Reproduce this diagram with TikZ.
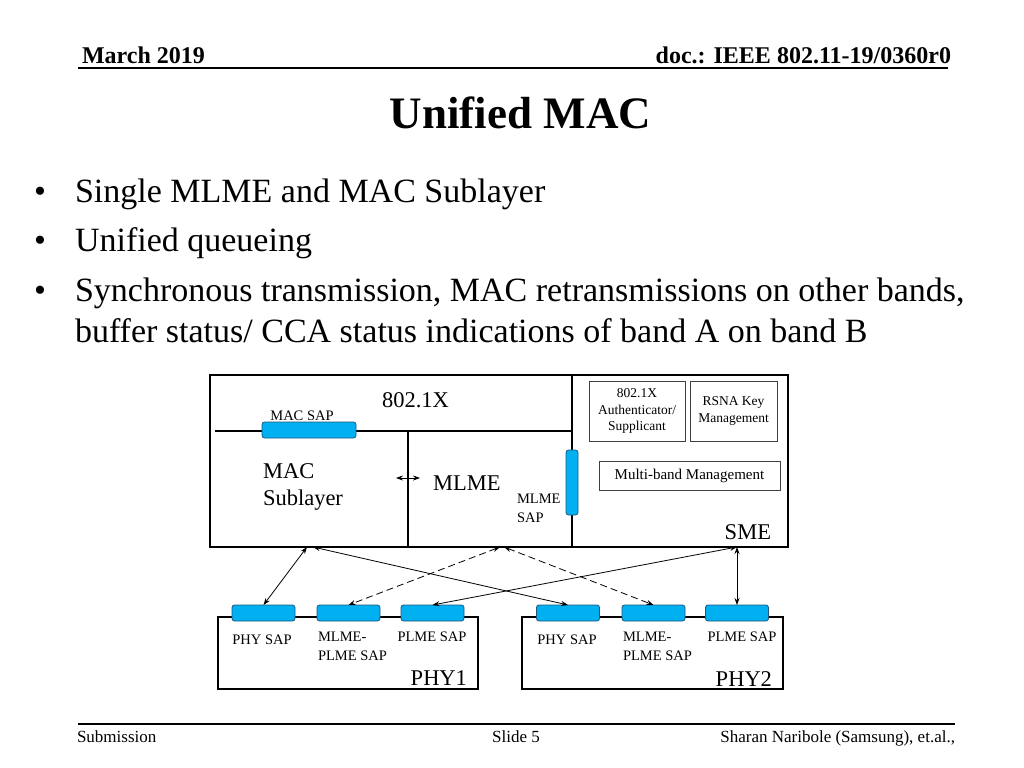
\documentclass[tikz,border=0pt]{standalone}
\usepackage{fontspec}
\setmainfont{Liberation Serif}
\usetikzlibrary{arrows.meta,positioning}
\definecolor{sapfill}{RGB}{0,176,240}
\definecolor{sapline}{RGB}{35,85,125}

\begin{document}
\begin{tikzpicture}[x=1bp, y=-1bp,
  every node/.style={inner sep=0pt, outer sep=0pt},
  sap/.style={rectangle, rounded corners=2.5bp, draw=sapline, line width=0.8bp, fill=sapfill},
  physap/.style={sap, minimum width=63bp, minimum height=16bp},
  smebox/.style={draw=black!75, line width=1bp, align=center, font=\fontsize{13.5bp}{16.5bp}\selectfont},
  big/.style={font=\fontsize{22.5bp}{27bp}\selectfont},
  small/.style={font=\fontsize{14.5bp}{18.5bp}\selectfont},
  bullet/.style={font=\fontsize{34bp}{41bp}\selectfont, anchor=base west, align=left},
  link/.style={{Stealth[length=7bp,width=5bp]}-{Stealth[length=7bp,width=5bp]}, line width=0.8bp},
  dashlink/.style={link, dash pattern=on 7bp off 4bp},
]
\useasboundingbox (0,0) rectangle (1024,768);

% header and footer
\node[anchor=base west, font=\bfseries\fontsize{24bp}{28bp}\selectfont] (date) at (82,64) {March 2019};
\node[anchor=base east, font=\bfseries\fontsize{24bp}{28bp}\selectfont] (doc) at (951,64) {doc.: IEEE 802.11-19/0360r0};
\draw[line width=1.8bp] (78,68) -- (948,68);
\draw[line width=1.5bp] (78,724) -- (955,724);
\node[anchor=base west, font=\fontsize{17bp}{20bp}\selectfont] (sub) at (77,742) {Submission};
\node[anchor=base, font=\fontsize{17bp}{20bp}\selectfont] (slide) at (516,742) {Slide 5};
\node[anchor=base east, font=\fontsize{17bp}{20bp}\selectfont] (auth) at (955,742) {Sharan Naribole (Samsung), et.al.,};

% title and bullets
\node[anchor=base, font=\bfseries\fontsize{45bp}{50bp}\selectfont] (title) at (520.5,128) {Unified MAC};
\foreach \y in {202,251,301}
  \node[bullet] at (34,\y) {\textbullet};
\node[bullet] (b1) at (75,202) {Single MLME and MAC Sublayer};
\node[bullet] (b2) at (75,251) {Unified queueing};
\node[bullet] (b3) at (75,342) {Synchronous transmission, MAC retransmissions on other bands,\\buffer status/ CCA status indications of band A on band B};

% upper block
\draw[line width=1.3bp] (210,375) rectangle (788,547);
\draw[line width=1.1bp] (215,431) -- (572,431);
\draw[line width=1.1bp] (408,431) -- (408,547);
\draw[line width=1.1bp] (572,375) -- (572,547);
\node[sap, minimum width=94bp, minimum height=16bp] (macsap) at (309,430) {};
\node[sap, minimum width=12bp, minimum height=65bp] (mlmesap) at (572,482.5) {};
\node[big, anchor=base] (dot1x) at (415.5,407) {802.1X};
\node[small, anchor=base] (macsapl) at (302,420) {MAC SAP};
\node[big, anchor=base west, align=left] (macl) at (263,505) {MAC\\Sublayer};
\node[big, anchor=base west] (mlmel) at (433,490) {MLME};
\node[small, anchor=base west, align=left] (mlmesapl) at (517,522) {MLME\\SAP};
\coordinate (ml) at (396,478);
\coordinate (mr) at (420,478);
\draw[link] (ml) -- (mr);
\node[smebox, minimum width=96bp, minimum height=60bp] (authbox) at (637,411) {802.1X\\Authenticator/\\Supplicant};
\node[smebox, minimum width=87bp, minimum height=60bp] (rsna) at (733.5,411) {RSNA Key\\Management};
\node[smebox, minimum width=181bp, minimum height=29bp, font=\fontsize{15bp}{18bp}\selectfont] (mbm) at (689.5,475.5) {Multi-band Management};
\node[big, anchor=base east] (sme) at (771,539) {SME};

% PHY blocks
\draw[line width=1.3bp] (218,617) rectangle (478,689);
\draw[line width=1.3bp] (522,617) rectangle (783,689);
\node[physap] (phy1) at (263.5,613) {};
\node[physap] (mp1) at (348.5,613) {};
\node[physap] (pl1) at (432.5,613) {};
\node[physap] (phy2) at (568,613) {};
\node[physap] (mp2) at (653.5,613) {};
\node[physap] (pl2) at (737,613) {};
\node[small, anchor=base] at (262,644) {PHY SAP};
\node[small, anchor=base west, align=left] at (318,660) {MLME-\\PLME SAP};
\node[small, anchor=base] at (432,641) {PLME SAP};
\node[big, anchor=base east] (phy1l) at (467,685) {PHY1};
\node[small, anchor=base] at (567,644) {PHY SAP};
\node[small, anchor=base west, align=left] at (623,660) {MLME-\\PLME SAP};
\node[small, anchor=base] at (742,641) {PLME SAP};
\node[big, anchor=base east] (phy2l) at (772,686) {PHY2};

% connectors
\coordinate (c1) at (307,547);
\coordinate (c2) at (313,547);
\coordinate (c3) at (500,547);
\coordinate (c4) at (504,547);
\coordinate (c5) at (737,547);
\draw[link] (c1) -- (phy1.north);
\draw[link] (c2) -- (phy2.north);
\draw[dashlink] (c3) -- (mp1.north);
\draw[dashlink] (c4) -- (mp2.north);
\draw[link] (c5) -- (pl1.north);
\draw[link] (c5) -- (pl2.north);
\end{tikzpicture}
\end{document}
